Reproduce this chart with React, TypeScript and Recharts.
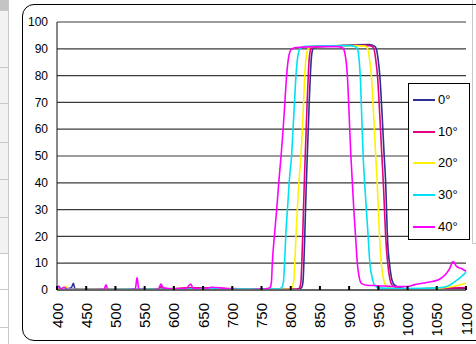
import React from "react";
import { LineChart, Line, XAxis, YAxis, CartesianGrid } from "recharts";

type Pt = { wl: number; t: number };
const toPts = (a: number[][]): Pt[] => a.map(([wl, t]) => ({ wl, t }));

const seriesNames = ["0°", "10°", "20°", "30°", "40°"];
const seriesColors = ["#2E3192", "#E4007F", "#FFF200", "#00E1F5", "#FF00FF"];

const xTicks = [400, 450, 500, 550, 600, 650, 700, 750, 800, 850, 900, 950, 1000, 1050, 1100];
const yTicks = [0, 10, 20, 30, 40, 50, 60, 70, 80, 90, 100];

const deg0 = toPts([
  [400, 0.3], [412, 0.4], [422, 0.6], [425, 1.0], [428, 2.5], [431, 0.4], [450, 0.2], [500, 0.3], [550, 0.3],
  [600, 0.4], [650, 0.5], [700, 0.3], [750, 0.3], [800, 0.3], [815, 0.4], [819, 1], [821, 3], [822.5, 10],
  [824, 20], [826, 35], [828, 48], [830, 60], [832, 72], [834, 82], [836, 88], [839, 90.3], [850, 90.8],
  [880, 91.1], [910, 91.5], [935, 91.6], [943, 91], [946, 90.3], [949, 87], [952.5, 80], [956.5, 65],
  [960, 50], [962.5, 40], [964, 30], [965.5, 20], [969, 10], [972, 5], [977, 2], [987, 0.8], [1000, 0.4],
  [1050, 0.4], [1100, 0.5],
]);

const deg10 = toPts([
  [400, 1.0], [403, 0.3], [420, 0.3], [450, 0.3], [500, 0.2], [560, 0.3], [575, 0.5], [578, 1.4], [582, 0.4],
  [600, 0.5], [620, 0.8], [650, 0.8], [680, 0.6], [700, 0.5], [750, 0.3], [800, 0.3], [812, 0.4], [815.5, 1],
  [817.5, 3], [819, 10], [820.5, 20], [822.5, 35], [824.5, 48], [826.5, 60], [828.5, 72], [830.5, 82],
  [832.5, 88], [835.5, 90.3], [850, 90.9], [880, 91.1], [910, 91.3], [935, 91.2], [940, 90.8], [943, 89.5],
  [945.5, 86], [948.5, 80], [952.5, 65], [956, 50], [958.5, 40], [960.5, 30], [962.5, 20], [966, 10],
  [969, 5], [973, 2], [981, 0.8], [1000, 0.4], [1050, 0.6], [1100, 0.9],
]);

const deg20 = toPts([
  [400, 0.3], [412, 0.4], [415, 1.5], [419, 0.3], [450, 0.2], [500, 0.2], [550, 0.2], [600, 0.1], [650, 0.1],
  [700, 0.2], [750, 0.2], [790, 0.3], [798, 0.3], [802, 1], [805, 3], [807, 10], [809, 20], [812, 33],
  [815, 43], [817.5, 50], [820, 60], [822, 70], [824, 80], [826.5, 87], [830, 90], [836, 90.8], [870, 91.1],
  [910, 91.2], [928, 91], [932, 89.8], [935, 86], [938, 80], [942, 65], [945.5, 50], [948, 40], [950, 30],
  [952, 20], [955, 10], [958, 5], [962, 2], [972, 0.6], [1000, 0.3], [1050, 0.6], [1080, 1.4], [1100, 2.5],
]);

const deg30 = toPts([
  [400, 0.8], [404, 1.2], [408, 0.4], [420, 0.3], [450, 0.2], [500, 0.2], [550, 0.3], [600, 0.3], [650, 0.5],
  [700, 0.4], [750, 0.3], [775, 0.4], [780, 0.4], [785, 1], [787.5, 3], [789.5, 10], [791.5, 20], [795, 32],
  [798, 42], [801.5, 50], [804, 60], [806.5, 70], [809, 80], [812, 87], [816, 90], [822, 90.8], [860, 91.1],
  [900, 91.2], [911, 90.8], [915, 89.5], [917, 86], [919, 80], [921.5, 65], [924, 50], [926.5, 40],
  [929.5, 30], [932.5, 20], [935.5, 10], [939, 5], [943, 2], [950, 0.8], [970, 0.6], [1000, 0.5],
  [1050, 0.8], [1065, 1.2], [1081, 3.1], [1092, 5], [1100, 6.6],
]);

const deg40 = toPts([
  [400, 0.5], [403, 1.5], [406, 0.3], [412, 1.0], [418, 0.2], [450, 0.1], [480, 0.2], [484, 1.9], [487, 0.1],
  [520, 0.1], [534, 0.4], [537, 4.6], [540, 0.3], [560, 0.1], [573, 0.2], [578, 2.2], [582, 0.8], [600, 0.4],
  [620, 0.5], [629, 2.2], [633, 0.6], [650, 0.3], [665, 1.0], [680, 0.8], [700, 0.3], [720, 0.1], [740, 0.2],
  [755, 0.4], [762, 0.6], [765, 1], [767, 3], [768.5, 10], [772, 20], [776, 30], [779.5, 40], [783.5, 50],
  [787, 60], [790, 70], [793, 80], [796.5, 87], [801, 89.8], [810, 90.5], [850, 90.8], [880, 90.8],
  [889, 90.3], [892.5, 88.5], [895.5, 84], [897.5, 78], [899.5, 68], [901, 60], [903, 50], [905.5, 40],
  [908, 30], [911, 20], [914, 10], [917, 5], [921, 2.5], [930, 1.8], [950, 1.6], [975, 1.3], [1000, 1.3],
  [1012, 2], [1035, 2.9], [1052, 3.7], [1064, 5.6], [1072, 8], [1078, 10.6], [1084, 8.7], [1092, 8],
  [1100, 7],
]);

const allSeries = [deg0, deg10, deg20, deg30, deg40];

const FONT = '"Liberation Sans", Arial, Helvetica, sans-serif';
const X_TICK_MARGIN = 13;

const XTick = (props: any) => {
  const { x, y, payload } = props;
  const axisY = y - X_TICK_MARGIN;
  return (
    <g>
      <line x1={x} x2={x} y1={axisY - 4} y2={axisY} stroke="#000" strokeWidth={2} />
      <text
        x={x}
        y={y}
        transform={`rotate(-90 ${x} ${y})`}
        textAnchor="end"
        dominantBaseline="central"
        fontSize={15}
        fontFamily={FONT}
        fill="#000"
      >
        {payload.value}
      </text>
    </g>
  );
};

const rowLines = [10, 67, 103, 142, 179, 217, 253, 289, 327];

export default function App() {
  return (
    <div
      style={{
        position: "absolute",
        left: 0,
        top: 0,
        width: 476,
        height: 344,
        overflow: "hidden",
        background: "#fff",
        fontFamily: FONT,
      }}
    >
      {/* spreadsheet strip */}
      <div style={{ position: "absolute", left: 0, top: 0, width: 8, height: 10, background: "#c4c4c4" }} />
      <div style={{ position: "absolute", left: 0, top: 10, width: 8, height: 243, background: "#f2f2f2" }} />
      {rowLines.map((yy) => (
        <div key={yy} style={{ position: "absolute", left: 0, top: yy, width: 8, height: 1, background: "#c8c8c8" }} />
      ))}
      <div style={{ position: "absolute", left: 8, top: 0, width: 1, height: 344, background: "#c8c8c8" }} />
      {/* right gray line */}
      <div style={{ position: "absolute", left: 472, top: 0, width: 1, height: 243, background: "#c8c8c8" }} />
      <div style={{ position: "absolute", left: 472, top: 243, width: 4, height: 1, background: "#c8c8c8" }} />
      {/* chart frame */}
      <div
        style={{
          position: "absolute",
          left: 22,
          top: 4,
          width: 480,
          height: 337,
          border: "1px solid #000",
          borderRadius: 12,
          boxSizing: "border-box",
        }}
      />
      <div style={{ position: "absolute", left: 0, top: 0 }}>
        <LineChart width={476} height={344} margin={{ top: 22, right: 10, left: 0, bottom: 0 }}>
          <CartesianGrid horizontal vertical={false} stroke="#3a3a3a" strokeWidth={1.2} />
          <XAxis
            dataKey="wl"
            type="number"
            domain={[400, 1100]}
            ticks={xTicks}
            interval={0}
            height={54}
            tickSize={0}
            tickMargin={X_TICK_MARGIN}
            tickLine={false}
            axisLine={{ stroke: "#666", strokeWidth: 2 }}
            tick={<XTick />}
          />
          <YAxis
            type="number"
            domain={[0, 100]}
            ticks={yTicks}
            interval={0}
            width={57}
            tickSize={0}
            tickMargin={9}
            tickLine={false}
            axisLine={{ stroke: "#111", strokeWidth: 1 }}
            tick={{ fontSize: 12, fill: "#000", fontFamily: FONT }}
          />
          {allSeries.map((s, i) => (
            <Line
              key={seriesNames[i]}
              data={s}
              dataKey="t"
              name={seriesNames[i]}
              type="monotone"
              stroke={seriesColors[i]}
              strokeWidth={1.6}
              dot={false}
              activeDot={false}
              isAnimationActive={false}
            />
          ))}
        </LineChart>
      </div>
      {/* legend */}
      <div
        style={{
          position: "absolute",
          left: 408,
          top: 83,
          width: 62,
          height: 157,
          border: "1px solid #000",
          boxSizing: "border-box",
          background: "#fff",
        }}
      >
        {seriesNames.map((n, i) => (
          <div
            key={n}
            style={{ position: "absolute", left: 4, top: 16 + i * 31.7 - 9, height: 18, display: "flex", alignItems: "center" }}
          >
            <div style={{ width: 22, height: 2, background: seriesColors[i] }} />
            <span style={{ marginLeft: 3, fontSize: 13, color: "#000", lineHeight: "18px" }}>{n}</span>
          </div>
        ))}
      </div>
    </div>
  );
}
